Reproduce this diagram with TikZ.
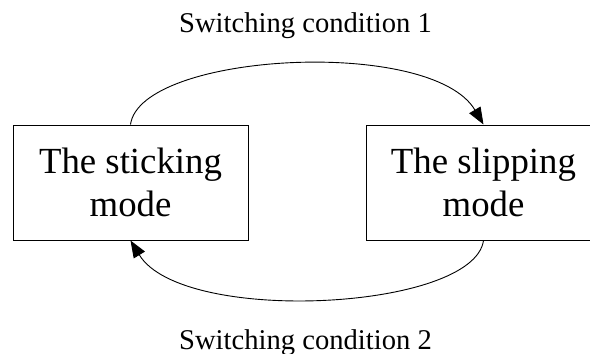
\documentclass[tikz,border=0pt]{standalone}
\usepackage{fontspec}
\setmainfont{Liberation Serif}
\usetikzlibrary{positioning, arrows.meta}

\begin{document}
\begin{tikzpicture}[
    x=1pt, y=-1pt,
    mode/.style={rectangle, draw, line width=1pt, minimum width=235pt, minimum height=115pt,
        inner sep=0pt, align=center, font=\fontsize{36.8pt}{43pt}\selectfont},
    cond/.style={inner sep=0pt, anchor=base, font=\fontsize{28.6pt}{34pt}\selectfont},
    switch/.style={draw, line width=0.9pt, -{Triangle[length=17pt, width=13pt]}}
]
    \useasboundingbox (0,0) rectangle (590,354);
    % Modes
    \node[mode] (stick) at (130.5,182.5) {The sticking\\mode};
    \node[mode, right=117pt of stick] (slip) {The slipping\\mode};
    % Labels
    \node[cond] (cond1) at (305.5,32) {Switching condition 1};
    \node[cond] (cond2) at (305.5,349) {Switching condition 2};
    % Transitions
    \draw[switch] (stick.north) .. controls +(10,-72) and +(-52,-88) .. (slip.north);
    \draw[switch] (slip.south) .. controls +(-10,70) and +(52,85) .. (stick.south);
\end{tikzpicture}
\end{document}
